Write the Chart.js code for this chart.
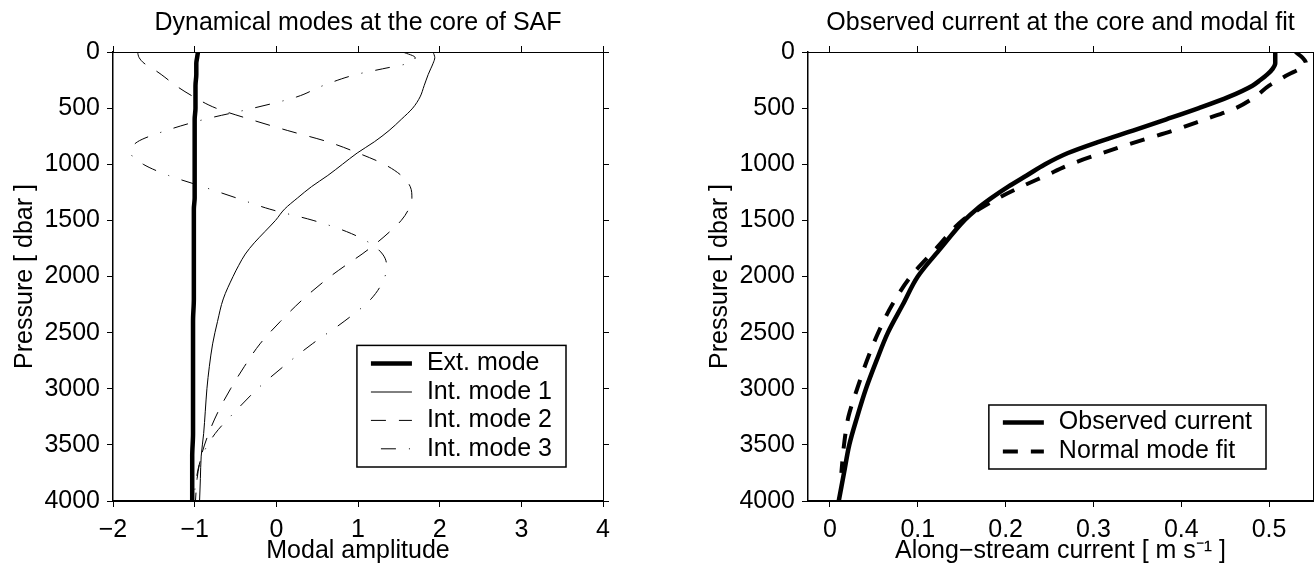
<!DOCTYPE html>
<html>
<head>
<meta charset="utf-8">
<title>Dynamical modes and modal fit at the SAF core</title>
<script src="https://cdn.jsdelivr.net/npm/chart.js@4.4.0/dist/chart.umd.min.js"></script>
<style>
    body { margin: 0; background: #fff; overflow: hidden; }
    .panel { position: absolute; top: 0; width: 657px; height: 580px; }
</style>
</head>
<body>
<div class="panel" style="left:0"><canvas id="modesChart"></canvas></div>
<div class="panel" style="left:657px"><canvas id="fitChart"></canvas></div>
<script>
// ---- left panel: vertical modes (pressure in dbar, amplitude dimensionless)
var pressureModes = [0, 50, 100, 150, 200, 300, 400, 500, 600, 700, 800, 900, 1000, 1100, 1200, 1300, 1400,
    1500, 1600, 1700, 1800, 1900, 2000, 2200, 2400, 2600, 2800, 3000, 3200, 3400, 3600, 3800, 4000];
var extMode = [-0.96, -0.97, -0.98, -0.98, -0.98, -0.99, -0.99, -0.99, -1.00, -1.00, -1.00, -1.00, -1.00, -1.00,
    -1.00, -1.00, -1.01, -1.01, -1.01, -1.01, -1.01, -1.01, -1.01, -1.01, -1.02, -1.02, -1.02, -1.02, -1.02,
    -1.02, -1.03, -1.03, -1.03];
var intMode1 = [1.92, 1.94, 1.92, 1.89, 1.86, 1.81, 1.76, 1.67, 1.53, 1.38, 1.20, 0.99, 0.81, 0.63, 0.43, 0.26,
    0.10, -0.01, -0.14, -0.27, -0.38, -0.46, -0.53, -0.65, -0.72, -0.78, -0.82, -0.85, -0.87, -0.89, -0.92, -0.93, -0.94];
var intMode2 = [-1.70, -1.68, -1.62, -1.51, -1.41, -1.23, -1.01, -0.74, -0.32, 0.14, 0.63, 1.00, 1.32, 1.53, 1.64,
    1.66, 1.62, 1.53, 1.39, 1.23, 1.05, 0.85, 0.66, 0.33, 0.05, -0.20, -0.39, -0.56, -0.71, -0.83, -0.92, -0.97, -0.99];
var intMode3 = [1.55, 1.70, 1.62, 1.30, 0.98, 0.57, 0.25, -0.28, -0.88, -1.35, -1.70, -1.78, -1.63, -1.32, -0.90,
    -0.49, -0.08, 0.45, 0.86, 1.14, 1.30, 1.35, 1.33, 1.16, 0.83, 0.44, 0.09, -0.23, -0.50, -0.75, -0.91, -0.98, -1.01];

// ---- right panel: observed current and normal mode fit (m/s)
var pressureFit = [0, 50, 100, 150, 200, 250, 300, 400, 500, 600, 700, 800, 900, 1000, 1100, 1200, 1300, 1400,
    1500, 1750, 2000, 2250, 2500, 2750, 3000, 3250, 3500, 3750, 4000];
var observedCurrent = [0.507, 0.507, 0.507, 0.504, 0.498, 0.490, 0.481, 0.454, 0.420, 0.383, 0.345, 0.306, 0.271,
    0.245, 0.224, 0.203, 0.184, 0.167, 0.153, 0.126, 0.100, 0.083, 0.066, 0.053, 0.041, 0.031, 0.022, 0.016, 0.010];
var modeFit = [0.530, 0.538, 0.542, 0.535, 0.522, 0.511, 0.500, 0.484, 0.462, 0.427, 0.391, 0.349, 0.310, 0.274,
    0.246, 0.218, 0.192, 0.170, 0.151, 0.121, 0.092, 0.071, 0.055, 0.042, 0.031, 0.021, 0.016, 0.013];

// tick labels
var pressureTicks = [0, 500, 1000, 1500, 2000, 2500, 3000, 3500, 4000];
var amplitudeTicks = [-2, -1, 0, 1, 2, 3, 4];
var currentTicks = [0, 0.1, 0.2, 0.3, 0.4, 0.5];

var FONT = '"Liberation Sans", Arial, Helvetica, sans-serif';
Chart.defaults.font.family = FONT;
Chart.defaults.font.size = 25;
Chart.defaults.color = '#000';

function profile(values, levels) {
    return values.map(function(v, i) { return {x: v, y: levels[i]}; });
}
function minus(v) { return String(v).replace('-', '\u2212'); }
function fixTicks(list) {
    return function(scale) { scale.ticks = list.map(function(v) { return {value: v}; }); };
}
function fixSize(prop, size) {
    return function(scale) { scale[prop] = size; };
}

// boxed legend drawn inside the plot, lower right
var boxLegend = {
    id: 'boxLegend',
    afterDatasetsDraw: function(chart, args, opts) {
        var ctx = chart.ctx, area = chart.chartArea, sets = chart.data.datasets;
        ctx.save();
        ctx.font = '25px ' + FONT;
        var textW = 0;
        sets.forEach(function(ds) { textW = Math.max(textW, ctx.measureText(ds.label).width); });
        var padX = 14, sample = 41, gap = 15;
        var w = padX + sample + gap + textW + padX;
        var h = sets.length * opts.rowHeight + opts.padY * 2;
        var x0 = area.right - opts.right - w, y0 = area.bottom - opts.bottom - h;
        ctx.fillStyle = '#fff';
        ctx.fillRect(x0, y0, w, h);
        ctx.lineWidth = 1.5;
        ctx.strokeStyle = '#000';
        ctx.strokeRect(x0, y0, w, h);
        sets.forEach(function(ds, i) {
            var cy = y0 + opts.padY + opts.rowHeight * (i + 0.5);
            ctx.beginPath();
            ctx.setLineDash(ds.borderDash || []);
            ctx.lineDashOffset = ds.legendDashOffset || 0;
            ctx.lineWidth = ds.borderWidth;
            ctx.moveTo(x0 + padX, cy);
            ctx.lineTo(x0 + padX + sample, cy);
            ctx.stroke();
            ctx.setLineDash([]);
            ctx.fillStyle = '#000';
            ctx.textBaseline = 'middle';
            ctx.textAlign = 'left';
            ctx.fillText(ds.label, x0 + padX + sample + gap, cy);
        });
        ctx.restore();
    }
};

function tickGrid() {
    return {drawOnChartArea: false, drawTicks: true, tickLength: 6, color: '#000', lineWidth: 1};
}

function buildScales(o) {
    return {
        x: {
            type: 'linear', position: 'bottom', min: o.xMin, max: o.xMax,
            afterBuildTicks: fixTicks(o.xTicks), afterFit: fixSize('height', 79),
            grid: tickGrid(), border: {color: '#000', width: 2},
            ticks: {padding: 8, autoSkip: false, maxRotation: 0, callback: function(v) { return minus(v); }},
            title: {display: true, text: o.xTitle, padding: {top: 0, bottom: 14}}
        },
        xTop: {
            type: 'linear', position: 'top', min: o.xMin, max: o.xMax,
            afterBuildTicks: fixTicks(o.xTicks), afterFit: fixSize('height', 52),
            grid: tickGrid(), border: {color: '#000', width: 1},
            ticks: {display: false},
            title: {display: true, text: o.title, padding: {top: 8, bottom: 0}}
        },
        y: {
            type: 'linear', position: 'left', min: 0, max: 4000, reverse: true,
            afterBuildTicks: fixTicks(pressureTicks), afterFit: fixSize('width', o.yWidth),
            grid: tickGrid(), border: {color: '#000', width: 1.5},
            ticks: {padding: 7, autoSkip: false, callback: function(v) { return String(v); }},
            title: {display: true, text: 'Pressure [ dbar ]', padding: {top: o.yTitlePad, bottom: 0}}
        },
        yRight: {
            type: 'linear', position: 'right', min: 0, max: 4000, reverse: true,
            afterBuildTicks: fixTicks(pressureTicks), afterFit: fixSize('width', o.rightWidth),
            grid: tickGrid(), border: {color: '#000', width: 1},
            ticks: {display: false}
        }
    };
}

function baseOptions(scales, legendOpts) {
    return {
        responsive: true,
        maintainAspectRatio: false,
        animation: false,
        indexAxis: 'y',
        layout: {padding: 0},
        elements: {point: {radius: 0}, line: {cubicInterpolationMode: 'monotone', borderCapStyle: 'butt'}},
        plugins: {legend: {display: false}, tooltip: {enabled: false}, boxLegend: legendOpts},
        scales: scales
    };
}

new Chart(document.getElementById('modesChart'), {
    type: 'line',
    plugins: [boxLegend],
    data: {
        datasets: [
            {label: 'Ext. mode', data: profile(extMode, pressureModes), borderColor: '#000', borderWidth: 4.5, fill: false},
            {label: 'Int. mode 1', data: profile(intMode1, pressureModes), borderColor: '#000', borderWidth: 1, fill: false},
            {label: 'Int. mode 2', data: profile(intMode2, pressureModes), borderColor: '#000', borderWidth: 1,
                borderDash: [15, 13], fill: false},
            {label: 'Int. mode 3', data: profile(intMode3, pressureModes), borderColor: '#000', borderWidth: 1,
                borderDash: [15, 13, 1, 13], legendDashOffset: 32, fill: false}
        ]
    },
    options: baseOptions(buildScales({
        xMin: -2, xMax: 4, xTicks: amplitudeTicks, xTitle: 'Modal amplitude',
        title: 'Dynamical modes at the core of SAF', yWidth: 113, rightWidth: 54, yTitlePad: 10
    }), {right: 37, bottom: 34, rowHeight: 28.4, padY: 4})
});

new Chart(document.getElementById('fitChart'), {
    type: 'line',
    plugins: [boxLegend],
    data: {
        datasets: [
            {label: 'Observed current', data: profile(observedCurrent, pressureFit), borderColor: '#000',
                borderWidth: 4.5, fill: false},
            {label: 'Normal mode fit', data: profile(modeFit, pressureFit), borderColor: '#000', borderWidth: 4,
                borderDash: [15, 13], fill: false}
        ]
    },
    options: baseOptions(buildScales({
        xMin: -0.025, xMax: 0.55, xTicks: currentTicks, xTitle: 'Along\u2212stream current [ m s\u207B\u00B9 ]',
        title: 'Observed current at the core and modal fit', yWidth: 151, rightWidth: 1, yTitlePad: 48
    }), {right: 47, bottom: 32, rowHeight: 29, padY: 3})
});
</script>
</body>
</html>
